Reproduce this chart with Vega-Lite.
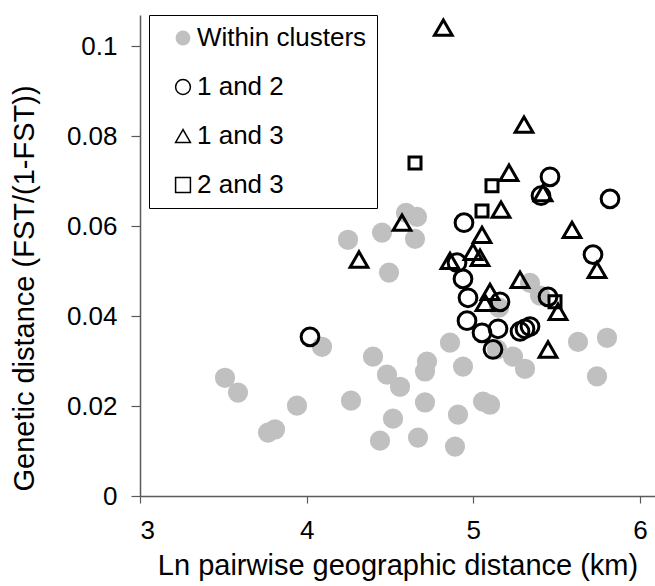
{
  "$schema": "https://vega.github.io/schema/vega-lite/v6.json",
  "width": 515,
  "height": 481,
  "autosize": "none",
  "padding": {"left": 140, "top": 15, "right": 0, "bottom": 90},
  "background": "white",
  "config": {
    "view": {"stroke": null},
    "font": "Liberation Sans",
    "axis": {
      "domainColor": "#5a5a5a",
      "domainWidth": 1.5,
      "tickColor": "#5a5a5a",
      "tickWidth": 1.2,
      "labelColor": "black",
      "titleColor": "black",
      "labelFont": "Liberation Sans",
      "titleFont": "Liberation Sans",
      "labelFontSize": 26,
      "titleFontSize": 29,
      "titleFontWeight": "normal",
      "grid": false
    },
    "legend": {
      "labelFont": "Liberation Sans",
      "labelFontSize": 26,
      "labelColor": "black",
      "labelLimit": 400,
      "symbolStrokeWidth": 1.5
    }
  },
  "data": {
    "values": [
      {"group": "Within clusters", "x": 3.51, "y": 0.0263},
      {"group": "Within clusters", "x": 3.588, "y": 0.023},
      {"group": "Within clusters", "x": 3.768, "y": 0.0141},
      {"group": "Within clusters", "x": 3.81, "y": 0.0148},
      {"group": "Within clusters", "x": 3.942, "y": 0.0201},
      {"group": "Within clusters", "x": 4.092, "y": 0.0332},
      {"group": "Within clusters", "x": 4.266, "y": 0.0212},
      {"group": "Within clusters", "x": 4.398, "y": 0.031},
      {"group": "Within clusters", "x": 4.482, "y": 0.027},
      {"group": "Within clusters", "x": 4.56, "y": 0.0243},
      {"group": "Within clusters", "x": 4.518, "y": 0.0172},
      {"group": "Within clusters", "x": 4.44, "y": 0.0123},
      {"group": "Within clusters", "x": 4.668, "y": 0.013},
      {"group": "Within clusters", "x": 4.71, "y": 0.0208},
      {"group": "Within clusters", "x": 4.722, "y": 0.0299},
      {"group": "Within clusters", "x": 4.71, "y": 0.0277},
      {"group": "Within clusters", "x": 4.86, "y": 0.0341},
      {"group": "Within clusters", "x": 4.938, "y": 0.0288},
      {"group": "Within clusters", "x": 4.89, "y": 0.011},
      {"group": "Within clusters", "x": 4.908, "y": 0.0181},
      {"group": "Within clusters", "x": 5.058, "y": 0.021},
      {"group": "Within clusters", "x": 5.1, "y": 0.0203},
      {"group": "Within clusters", "x": 5.238, "y": 0.031},
      {"group": "Within clusters", "x": 5.31, "y": 0.0283},
      {"group": "Within clusters", "x": 5.142, "y": 0.0326},
      {"group": "Within clusters", "x": 5.628, "y": 0.0343},
      {"group": "Within clusters", "x": 5.802, "y": 0.0352},
      {"group": "Within clusters", "x": 5.742, "y": 0.0266},
      {"group": "Within clusters", "x": 5.34, "y": 0.0474},
      {"group": "Within clusters", "x": 5.4, "y": 0.0446},
      {"group": "Within clusters", "x": 5.154, "y": 0.0419},
      {"group": "Within clusters", "x": 4.596, "y": 0.063},
      {"group": "Within clusters", "x": 4.662, "y": 0.0621},
      {"group": "Within clusters", "x": 4.65, "y": 0.0572},
      {"group": "Within clusters", "x": 4.452, "y": 0.0586},
      {"group": "Within clusters", "x": 4.248, "y": 0.057},
      {"group": "Within clusters", "x": 4.494, "y": 0.0497},
      {"group": "1 and 2", "x": 4.02, "y": 0.0354},
      {"group": "1 and 2", "x": 4.944, "y": 0.0608},
      {"group": "1 and 2", "x": 5.46, "y": 0.071},
      {"group": "1 and 2", "x": 5.406, "y": 0.0668},
      {"group": "1 and 2", "x": 5.82, "y": 0.0661},
      {"group": "1 and 2", "x": 5.718, "y": 0.0537},
      {"group": "1 and 2", "x": 4.902, "y": 0.0519},
      {"group": "1 and 2", "x": 4.938, "y": 0.0483},
      {"group": "1 and 2", "x": 4.968, "y": 0.0441},
      {"group": "1 and 2", "x": 5.16, "y": 0.0432},
      {"group": "1 and 2", "x": 5.448, "y": 0.0443},
      {"group": "1 and 2", "x": 4.962, "y": 0.039},
      {"group": "1 and 2", "x": 5.052, "y": 0.0363},
      {"group": "1 and 2", "x": 5.148, "y": 0.0372},
      {"group": "1 and 2", "x": 5.28, "y": 0.0366},
      {"group": "1 and 2", "x": 5.31, "y": 0.0372},
      {"group": "1 and 2", "x": 5.34, "y": 0.0377},
      {"group": "1 and 2", "x": 5.118, "y": 0.0326},
      {"group": "1 and 3", "x": 4.82, "y": 0.1042},
      {"group": "1 and 3", "x": 5.304, "y": 0.0826},
      {"group": "1 and 3", "x": 5.214, "y": 0.0719},
      {"group": "1 and 3", "x": 5.418, "y": 0.0674},
      {"group": "1 and 3", "x": 5.166, "y": 0.0637},
      {"group": "1 and 3", "x": 5.592, "y": 0.0592},
      {"group": "1 and 3", "x": 5.052, "y": 0.0581},
      {"group": "1 and 3", "x": 5.742, "y": 0.0503},
      {"group": "1 and 3", "x": 4.86, "y": 0.0523},
      {"group": "1 and 3", "x": 4.998, "y": 0.0543},
      {"group": "1 and 3", "x": 5.04, "y": 0.053},
      {"group": "1 and 3", "x": 4.572, "y": 0.0608},
      {"group": "1 and 3", "x": 4.314, "y": 0.0526},
      {"group": "1 and 3", "x": 5.28, "y": 0.0481},
      {"group": "1 and 3", "x": 5.1, "y": 0.0454},
      {"group": "1 and 3", "x": 5.07, "y": 0.043},
      {"group": "1 and 3", "x": 5.508, "y": 0.041},
      {"group": "1 and 3", "x": 5.448, "y": 0.0326},
      {"group": "2 and 3", "x": 4.65, "y": 0.0741},
      {"group": "2 and 3", "x": 5.112, "y": 0.069},
      {"group": "2 and 3", "x": 5.052, "y": 0.0634},
      {"group": "2 and 3", "x": 5.49, "y": 0.0432}
    ]
  },
  "encoding": {
    "x": {
      "field": "x",
      "type": "quantitative",
      "scale": {"domain": [3, 6.09], "nice": false, "zero": false},
      "axis": {
        "title": "Ln pairwise geographic distance (km)",
        "values": [3, 4, 5, 6],
        "format": "~g",
        "tickSize": 7,
        "labelPadding": 14,
        "titlePadding": 8
      }
    },
    "y": {
      "field": "y",
      "type": "quantitative",
      "scale": {"domain": [0, 0.107], "nice": false},
      "axis": {
        "title": "Genetic distance (FST/(1-FST))",
        "values": [0, 0.02, 0.04, 0.06, 0.08, 0.1],
        "format": "~g",
        "tickSize": 9,
        "labelPadding": 14,
        "titlePadding": 27,
        "titleY": 273
      }
    },
    "shape": {
      "field": "group",
      "type": "nominal",
      "scale": {
        "domain": ["Within clusters", "1 and 2", "1 and 3", "2 and 3"],
        "range": ["circle", "circle", "triangle-up", "square"]
      },
      "legend": {
        "title": null,
        "orient": "none",
        "legendX": 9,
        "legendY": 0,
        "padding": 10,
        "strokeColor": "black",
        "fillColor": "white",
        "symbolSize": 220,
        "symbolOffset": 11,
        "labelOffset": 1,
        "rowPadding": 23,
        "labelLimit": 400
      }
    },
    "fill": {
      "field": "group",
      "type": "nominal",
      "scale": {
        "domain": ["Within clusters", "1 and 2", "1 and 3", "2 and 3"],
        "range": ["#c0c0c0", "transparent", "transparent", "transparent"]
      },
      "legend": {
        "title": null,
        "orient": "none",
        "legendX": 9,
        "legendY": 0,
        "padding": 10,
        "strokeColor": "black",
        "fillColor": "white",
        "symbolSize": 220,
        "symbolOffset": 11,
        "labelOffset": 1,
        "rowPadding": 23,
        "labelLimit": 400
      }
    },
    "stroke": {
      "field": "group",
      "type": "nominal",
      "scale": {
        "domain": ["Within clusters", "1 and 2", "1 and 3", "2 and 3"],
        "range": ["transparent", "black", "black", "black"]
      },
      "legend": {
        "title": null,
        "orient": "none",
        "legendX": 9,
        "legendY": 0,
        "padding": 10,
        "strokeColor": "black",
        "fillColor": "white",
        "symbolSize": 220,
        "symbolOffset": 11,
        "labelOffset": 1,
        "rowPadding": 23,
        "labelLimit": 400
      }
    }
  },
  "layer": [
    {
      "transform": [{"filter": "datum.group === 'Within clusters'"}],
      "mark": {"type": "point", "strokeWidth": 3, "opacity": 1, "size": 410}
    },
    {
      "transform": [{"filter": "datum.group === '1 and 2' || datum.group === '1 and 3'"}],
      "mark": {"type": "point", "strokeWidth": 3, "opacity": 1, "size": 315}
    },
    {
      "transform": [{"filter": "datum.group === '2 and 3'"}],
      "mark": {"type": "point", "strokeWidth": 3, "opacity": 1, "size": 144}
    }
  ]
}
